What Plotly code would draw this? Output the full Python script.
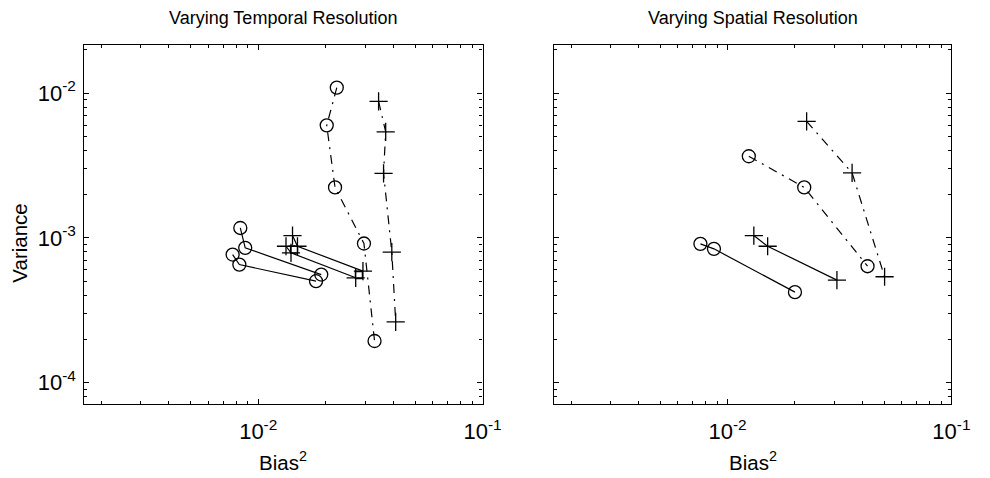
import plotly.graph_objects as go

# ---------------- data ----------------
# Left panel: Varying Temporal Resolution
t_dd_circ_x = [0.0224, 0.0202, 0.0220, 0.0296, 0.0330]
t_dd_circ_y = [0.0109, 0.00598, 0.00223, 0.000914, 0.000194]
t_dd_plus_x = [0.0344, 0.0370, 0.0362, 0.0394, 0.0410]
t_dd_plus_y = [0.00875, 0.0054, 0.00279, 0.000796, 0.000263]
t_circ_a_x = [0.00832, 0.00875, 0.0191]
t_circ_a_y = [0.00117, 0.000853, 0.000558]
t_circ_b_x = [0.00769, 0.00824, 0.0181]
t_circ_b_y = [0.000767, 0.000654, 0.000502]
t_plus_a_x = [0.01422, 0.01496, 0.0293]
t_plus_a_y = [0.001037, 0.000875, 0.000589]
t_plus_b_x = [0.0133, 0.0140, 0.0272]
t_plus_b_y = [0.000875, 0.000788, 0.00053]
t_sq_x = [0.01445, 0.0281]
t_sq_y = [0.00083, 0.000554]

# Right panel: Varying Spatial Resolution
s_dd_plus_x = [0.02255, 0.0360, 0.0503]
s_dd_plus_y = [0.00637, 0.00281, 0.000539]
s_dd_circ_x = [0.01244, 0.0220, 0.0422]
s_dd_circ_y = [0.00366, 0.00223, 0.000637]
s_plus_x = [0.0131, 0.0151, 0.0308]
s_plus_y = [0.001037, 0.000875, 0.000511]
s_circ_x = [0.00756, 0.00869, 0.0200]
s_circ_y = [0.000909, 0.000840, 0.000422]

titles = ["Varying Temporal Resolution", "Varying Spatial Resolution"]
x_label = "Bias<sup>2</sup>"
y_label = "Variance"
x_tickvals = [0.01, 0.1]
x_ticktext = ["10<sup>-2</sup>", "10<sup>-1</sup>"]
y_tickvals = [0.0001, 0.001, 0.01]
y_ticktext = ["10<sup>-4</sup>", "10<sup>-3</sup>", "10<sup>-2</sup>"]

# ---------------- styling ----------------
FONT = "Liberation Sans, Arial, Helvetica, sans-serif"
DASHDOT = "9px,6px,2px,6px"
BLACK = "black"

fig = go.Figure()


def add(xs, ys, sym, size, dash, xa, ya, mode="lines+markers"):
    fig.add_trace(go.Scatter(
        x=xs, y=ys, mode=mode, xaxis=xa, yaxis=ya,
        line=dict(color=BLACK, width=1.2, dash=dash),
        marker=dict(symbol=sym, size=size, color=BLACK,
                    line=dict(color=BLACK, width=1.3)),
        showlegend=False, hoverinfo="skip"))


# left panel
add(t_dd_circ_x, t_dd_circ_y, "circle-open", 13, DASHDOT, "x", "y")
add(t_dd_plus_x, t_dd_plus_y, "cross-thin-open", 13, DASHDOT, "x", "y")
add(t_circ_a_x, t_circ_a_y, "circle-open", 13, "solid", "x", "y")
add(t_circ_b_x, t_circ_b_y, "circle-open", 13, "solid", "x", "y")
add(t_plus_a_x, t_plus_a_y, "cross-thin-open", 13, "solid", "x", "y")
add(t_plus_b_x, t_plus_b_y, "cross-thin-open", 13, "solid", "x", "y")
add(t_sq_x, t_sq_y, "square-open", 7, "solid", "x", "y", mode="markers")

# right panel
add(s_dd_plus_x, s_dd_plus_y, "cross-thin-open", 13, DASHDOT, "x2", "y2")
add(s_dd_circ_x, s_dd_circ_y, "circle-open", 13, DASHDOT, "x2", "y2")
add(s_plus_x, s_plus_y, "cross-thin-open", 13, "solid", "x2", "y2")
add(s_circ_x, s_circ_y, "circle-open", 13, "solid", "x2", "y2")

W, H = 990, 478
xdom1 = [86 / W, 492 / W]
xdom2 = [565 / W, 970 / W]
ydom = [1 - 403.7 / H, 1 - 44.5 / H]

minor = dict(ticks="inside", ticklen=3, tickcolor=BLACK, tickwidth=1,
             dtick="D1", showgrid=False)

TICKFONT = dict(family=FONT, size=22, color=BLACK)
common_x = dict(type="log", range=[-2.775, -1], showgrid=False, zeroline=False,
                showline=True, linecolor=BLACK, linewidth=1.2, mirror="ticks",
                ticks="inside", ticklen=5, tickcolor=BLACK, tickwidth=1,
                tickmode="array", tickvals=x_tickvals, ticktext=x_ticktext,
                tickfont=TICKFONT, minor=minor, ticklabelstandoff=8)
common_y = dict(type="log", range=[-4.145, -1.665], showgrid=False, zeroline=False,
                showline=True, linecolor=BLACK, linewidth=1.2, mirror="ticks",
                ticks="inside", ticklen=5, tickcolor=BLACK, tickwidth=1,
                tickmode="array", tickvals=y_tickvals, ticktext=y_ticktext,
                tickfont=TICKFONT, minor=minor, domain=ydom)

fig.update_layout(
    width=W, height=H, margin=dict(l=0, r=0, t=0, b=0),
    paper_bgcolor="white", plot_bgcolor="white",
    font=dict(family=FONT, size=19, color=BLACK),
    xaxis=dict(common_x, domain=xdom1, anchor="y"),
    yaxis=dict(common_y, anchor="x", ticklabelstandoff=3),
    xaxis2=dict(common_x, domain=xdom2, anchor="y2"),
    yaxis2=dict(common_y, anchor="x2", showticklabels=False),
)

annots = []
for i, t in enumerate(titles):
    dom = xdom1 if i == 0 else xdom2
    cx = (dom[0] + dom[1]) / 2
    annots.append(dict(text=t, x=cx, y=1 - 18 / H, xref="paper", yref="paper",
                       xanchor="center", yanchor="middle", showarrow=False,
                       font=dict(family=FONT, size=18, color=BLACK)))
    annots.append(dict(text=x_label, x=cx, y=1 - 461 / H, xref="paper", yref="paper",
                       xanchor="center", yanchor="middle", showarrow=False,
                       font=dict(family=FONT, size=20.5, color=BLACK)))
annots.append(dict(text=y_label, x=19 / W, y=1 - 243 / H,
                   xref="paper", yref="paper", xanchor="center", yanchor="middle",
                   textangle=-90, showarrow=False,
                   font=dict(family=FONT, size=20.5, color=BLACK)))
fig.update_layout(annotations=annots)

fig.write_html("out.html")
